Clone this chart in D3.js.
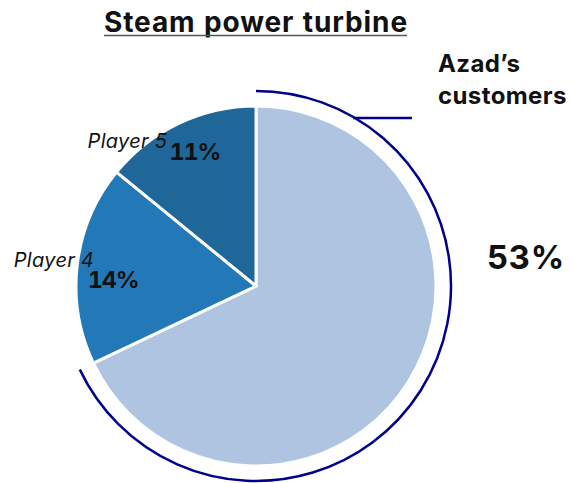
<!DOCTYPE html>
<html>
<head>
<meta charset="utf-8">
<script src="https://cdn.jsdelivr.net/npm/d3@7"></script>
<style>
  body { margin: 0; background: #fff; }
  svg { display: block; font-family: Inter, Roboto, "Noto Sans", sans-serif; font-feature-settings: "tnum"; }
</style>
</head>
<body>
<svg id="chart" width="572" height="483"></svg>
<script>
// data
const names = ["Azad\u2019s customers", "Player 4", "Player 5"];
const shares = [53, 14, 11];
const colors = ["#afc4e1", "#2379b7", "#1f6699"];

const title = "Steam power turbine";

const svg = d3.select("#chart");
const cx = 256, cy = 286, r = 180;

// title with underline
const t = svg.append("text")
    .attr("x", 256).attr("y", 32)
    .attr("text-anchor", "middle")
    .attr("font-size", 28).attr("font-weight", 700)
    .attr("letter-spacing", 0.9)
    .attr("fill", "#111")
    .text(title);
const tw = t.node().getComputedTextLength() - 1;
svg.append("line")
    .attr("x1", 255.5 - tw / 2).attr("x2", 255.5 + tw / 2)
    .attr("y1", 35.5).attr("y2", 35.5)
    .attr("stroke", "#555").attr("stroke-width", 1.5);

const pie = d3.pie().sort(null).value(d => d)(shares);
const arc = d3.arc().innerRadius(0).outerRadius(r);
const g = svg.append("g").attr("transform", "translate(" + cx + "," + cy + ")");

g.selectAll("path.slice")
    .data(pie)
    .enter()
    .append("path")
    .attr("class", "slice")
    .attr("d", arc)
    .attr("fill", (d, i) => colors[i])
    .attr("stroke", "#fff")
    .attr("stroke-width", 3)
    .attr("stroke-linejoin", "round");

// outline bracket round the biggest slice
const big = pie[0];
const ring = d3.arc().innerRadius(195).outerRadius(195);
g.append("path")
    .attr("d", ring({startAngle: big.startAngle, endAngle: big.endAngle}))
    .attr("fill", "none")
    .attr("stroke", "#00008b")
    .attr("stroke-width", 2.5);

// leader line to the label
const ly = 118 - cy;
const lx = Math.sqrt(195 * 195 - ly * ly);
g.append("line")
    .attr("x1", lx - 2).attr("y1", ly)
    .attr("x2", 412 - cx).attr("y2", ly)
    .attr("stroke", "#00008b").attr("stroke-width", 2.5);

const lab = svg.append("text")
    .attr("font-size", 24).attr("font-weight", 700)
    .attr("letter-spacing", 0.4).attr("fill", "#111");
lab.append("tspan").attr("x", 438).attr("y", 72).text("Azad\u2019s");
lab.append("tspan").attr("x", 438).attr("y", 104).text("customers");

svg.append("text")
    .attr("x", 487).attr("y", 269)
    .attr("font-size", 33).attr("font-weight", 700)
    .attr("letter-spacing", 0.5).attr("fill", "#111")
    .text(shares[0] + "%");

// small slices: name in italic, share in bold
const inner = d3.arc().innerRadius(145).outerRadius(145);
const pctNudge = [null, [1, 19], [1, 5]];
const nameOffset = [null, [-19, -21], [-27, -12]];
pie.slice(1).forEach((d, k) => {
    const i = k + 1;
    const c = inner.centroid(d);
    const px = cx + c[0] + pctNudge[i][0], py = cy + c[1] + pctNudge[i][1];
    svg.append("text")
        .attr("x", px).attr("y", py)
        .attr("text-anchor", "middle")
        .attr("font-size", 23.5).attr("font-weight", 700)
        .attr("letter-spacing", -1.2).attr("fill", "#111")
        .text(shares[i] + "%");
    svg.append("text")
        .attr("x", px + nameOffset[i][0]).attr("y", py + nameOffset[i][1])
        .attr("text-anchor", "end")
        .attr("font-size", 20).attr("font-style", "italic")
        .attr("letter-spacing", 0.3).attr("fill", "#111")
        .text(names[i]);
});
</script>
</body>
</html>
